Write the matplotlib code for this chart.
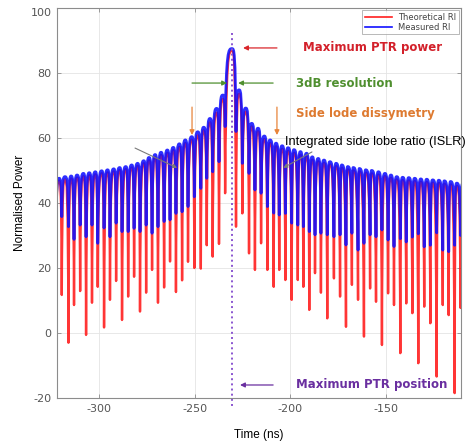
import matplotlib
matplotlib.use("Agg")
import matplotlib.pyplot as plt
from matplotlib.path import Path
from matplotlib.patches import PathPatch
from matplotlib.lines import Line2D

# lobe maxima (ns) and the nulls between them
lobe_t = [
    -320.9, -317.8, -314.6, -311.5, -308.2, -305.1, -301.9, -298.6, -295.5, -292.3,
    -289.2, -286.0, -282.9, -279.8, -276.6, -273.9, -270.7, -267.6, -264.3, -261.2,
    -258.0, -254.9, -251.5, -248.4, -245.3, -242.0, -238.5, -235.3,
    -230.5,
    -226.8, -223.3, -220.2, -216.9, -213.6, -210.6, -207.5, -204.3, -201.2, -198.1,
    -194.7, -191.5, -188.5, -185.4, -182.4, -179.3, -176.1, -173.1, -170.0, -167.1,
    -163.9, -160.6, -157.5, -154.0, -150.5, -147.4, -144.4, -141.3, -138.1, -135.0,
    -131.8, -128.7, -125.6, -122.4, -119.5, -116.2, -113.0, -109.9]
null_t = [
    -322.7, -319.5, -316.0, -313.1, -309.9, -306.8, -303.7, -300.7, -297.4, -294.3,
    -291.1, -288.0, -284.8, -281.7, -278.6, -275.4, -272.3, -269.2, -266.0, -262.9,
    -259.8, -256.6, -253.5, -250.2, -246.8, -243.7, -240.6, -237.3, -234.1,
    -228.4, -225.1, -221.6, -218.5, -215.3, -212.0, -208.7, -205.8, -202.6, -199.3,
    -196.1, -193.2, -190.1, -187.1, -184.0, -180.7, -177.2, -174.0, -170.9, -167.8,
    -164.6, -161.5, -158.3, -155.2, -152.1, -148.9, -145.8, -142.5, -139.4, -136.2,
    -133.1, -130.0, -126.8, -123.5, -120.3, -117.2, -114.1, -111.0, -107.8]

measured_peak = [
    47.6, 48.1, 48.3, 48.6, 49.1, 49.3, 49.6, 49.9, 50.2, 50.5,
    50.9, 51.2, 51.7, 52.2, 53.0, 54.0, 54.9, 55.6, 56.3, 57.1,
    58.2, 59.4, 60.4, 61.9, 63.3, 66.0, 69.1, 73.2,
    87.5,
    74.8, 69.2, 64.5, 63.0, 60.6, 59.4, 58.4, 57.6, 57.0, 56.4,
    55.8, 55.3, 54.2, 53.7, 53.2, 52.7, 52.2, 51.7, 51.2, 50.9,
    50.6, 50.2, 50.0, 49.6, 49.1, 48.6, 48.1, 47.9, 47.8, 47.6,
    47.4, 47.3, 47.1, 47.0, 46.8, 46.6, 46.1, 45.9]
measured_null = [
    27.0, 35.8, 32.7, 28.8, 33.2, 29.6, 33.2, 27.6, 32.3, 29.6,
    33.8, 31.2, 31.2, 32.2, 31.2, 33.2, 30.7, 32.7, 34.3, 34.8,
    36.8, 37.3, 38.9, 41.9, 44.5, 47.6, 49.6, 52.7, 63.5,
    62.0, 52.2, 49.1, 44.0, 43.0, 38.9, 36.9, 36.3, 36.8, 33.8,
    33.2, 32.7, 31.2, 30.2, 30.7, 30.2, 29.6, 30.2, 27.1, 30.7,
    25.5, 27.6, 30.2, 29.6, 31.7, 28.6, 26.6, 29.0, 28.0, 29.5,
    30.5, 26.5, 27.0, 30.8, 25.5, 25.0, 27.0, 30.0, 28.0]

theory_peak = [
    46.8, 47.2, 47.5, 47.8, 48.2, 48.5, 48.8, 49.1, 49.4, 49.7,
    50.1, 50.4, 50.9, 51.4, 52.2, 53.1, 54.0, 54.7, 55.4, 56.2,
    57.2, 58.4, 59.4, 60.8, 62.3, 64.8, 67.8, 72.0,
    86.8,
    73.6, 68.1, 63.5, 62.0, 59.6, 58.4, 57.4, 56.6, 56.0, 55.4,
    54.8, 54.3, 53.3, 52.8, 52.3, 51.8, 51.3, 50.8, 50.3, 50.0,
    49.7, 49.3, 49.1, 48.7, 48.2, 47.7, 47.2, 47.0, 46.9, 46.7,
    46.5, 46.4, 46.2, 46.1, 45.9, 45.7, 45.2, 45.0]
theory_null = [
    18.0, 11.7, -3.0, 8.6, 12.9, -0.6, 9.3, 14.2, 1.7, 10.2,
    16.0, 4.0, 11.2, 17.3, 6.6, 12.4, 19.4, 9.3, 14.0, 22.0,
    12.6, 16.2, 21.9, 20.0, 19.8, 27.0, 23.5, 27.4, 43.0,
    32.7, 36.8, 24.5, 19.4, 27.6, 19.4, 14.2, 19.4, 16.3, 10.2,
    16.3, 14.2, 7.1, 18.4, 12.4, 4.5, 16.8, 11.2, 1.9, 14.8,
    10.2, -1.1, 13.7, 9.6, -3.7, 12.2, 8.6, -6.2, 9.1, 6.1,
    -9.3, 8.1, 3.0, -13.4, 8.6, 5.5, -18.5, 7.7, -2.0]

peak_time = -230.5

RED = "#ff1f1f"
BLUE = "#1010ff"


def lobe_path(peaks, nulls):
    # rounded lobe tops, sharp cusps at the nulls
    verts = [(null_t[0], nulls[0])]
    codes = [Path.MOVETO]
    for i, tp in enumerate(lobe_t):
        t0, t1 = null_t[i], null_t[i + 1]
        vp = peaks[i]
        d0, d1 = tp - t0, t1 - tp
        verts += [(t0 + 0.15 * d0, vp), (tp - 0.5 * d0, vp), (tp, vp),
                  (tp + 0.5 * d1, vp), (t1 - 0.15 * d1, vp), (t1, nulls[i + 1])]
        codes += [Path.CURVE4] * 6
    return Path(verts, codes)


plt.rcParams["axes.unicode_minus"] = False
fig = plt.figure(figsize=(4.73, 4.43), dpi=100)
ax = fig.add_axes([0.1205, 0.1016, 0.854, 0.8804])

ax.add_patch(PathPatch(lobe_path(theory_peak, theory_null), fill=False,
                       edgecolor=RED, lw=1.7, alpha=0.9,
                       joinstyle="round", capstyle="round"))
ax.add_patch(PathPatch(lobe_path(measured_peak, measured_null), fill=False,
                       edgecolor=BLUE, lw=2.0, alpha=0.88,
                       joinstyle="round", capstyle="round"))

ax.set_xlim(-322, -110.8)
ax.set_ylim(-20, 100)
ax.set_xticks([-300, -250, -200, -150])
ax.set_yticks([-20, 0, 20, 40, 60, 80, 100])
ax.grid(True, color="#e4e4e4", lw=0.6)
ax.set_axisbelow(True)
for s in ax.spines.values():
    s.set_color("#8c8c8c")
    s.set_linewidth(0.8)
ax.tick_params(direction="in", top=True, right=True, length=3, width=0.6,
               color="#8c8c8c", labelcolor="#555555", labelsize=8, pad=4)
ax.get_yticklabels()[-1].set_va("top")
ax.set_xlabel("Time (ns)", fontsize=8.5, family="Liberation Sans", labelpad=11)
ax.set_ylabel("Normalised Power", fontsize=8.5, family="Liberation Sans",
              labelpad=3)

# max PTR position
ax.plot([peak_time, peak_time], [92.3, -22.5], ls=":", color="#8a55d0",
        lw=1.4, clip_on=False)

leg = ax.legend(handles=[Line2D([], [], color=RED, lw=1.2, label="Theoretical RI"),
                         Line2D([], [], color=BLUE, lw=1.2, label="Measured RI")],
                loc="upper right", fontsize=6, frameon=True, fancybox=False,
                edgecolor="#999999", borderaxespad=0.25, handlelength=3.2,
                labelspacing=0.15, borderpad=0.3)
leg.get_frame().set_linewidth(0.6)
for t in leg.get_texts():
    t.set_color("#444444")


def arrow(tail, head, color, lw=0.9):
    ax.annotate("", xy=head, xytext=tail, annotation_clip=False,
                arrowprops=dict(arrowstyle="-|>", color=color, lw=lw,
                                mutation_scale=7, shrinkA=0, shrinkB=0))


arrow((-207.0, 87.7), (-224.7, 87.7), "#d9262b")
ax.text(-193.4, 87.7, "Maximum PTR power", color="#d3202a", fontsize=8.5,
        fontweight="bold", va="center")

arrow((-251.4, 76.9), (-233.1, 76.9), "#4f8f2f")
arrow((-209.0, 76.9), (-227.3, 76.9), "#4f8f2f")
ax.text(-197.0, 76.9, "3dB resolution", color="#4f8f2f", fontsize=8.5,
        fontweight="bold", va="center")

arrow((-251.4, 69.5), (-251.4, 60.9), "#e8843a")
arrow((-207.0, 69.5), (-207.0, 60.9), "#e8843a")
ax.text(-197.0, 67.4, "Side lode dissymetry", color="#de7a30", fontsize=8.5,
        fontweight="bold", va="center")

ax.annotate("", xy=(-259.2, 50.8), xytext=(-281.2, 56.9),
            arrowprops=dict(arrowstyle="-|>", color="#7a7a7a", lw=0.8,
                            mutation_scale=6, shrinkA=0, shrinkB=0))
ax.annotate("", xy=(-203.7, 50.8), xytext=(-188.7, 55.7),
            arrowprops=dict(arrowstyle="-|>", color="#7a7a7a", lw=0.8,
                            mutation_scale=6, shrinkA=0, shrinkB=0))
ax.text(-202.8, 58.8, "Integrated side lobe ratio (ISLR)", color="black",
        fontsize=9.2, family="Liberation Sans", va="center")

arrow((-209.0, -16.0), (-226.3, -16.0), "#6a2fa0")
ax.text(-197.0, -16.0, "Maximum PTR position", color="#6a2fa0", fontsize=8.5,
        fontweight="bold", va="center")

fig.savefig("out.png", dpi=100)
